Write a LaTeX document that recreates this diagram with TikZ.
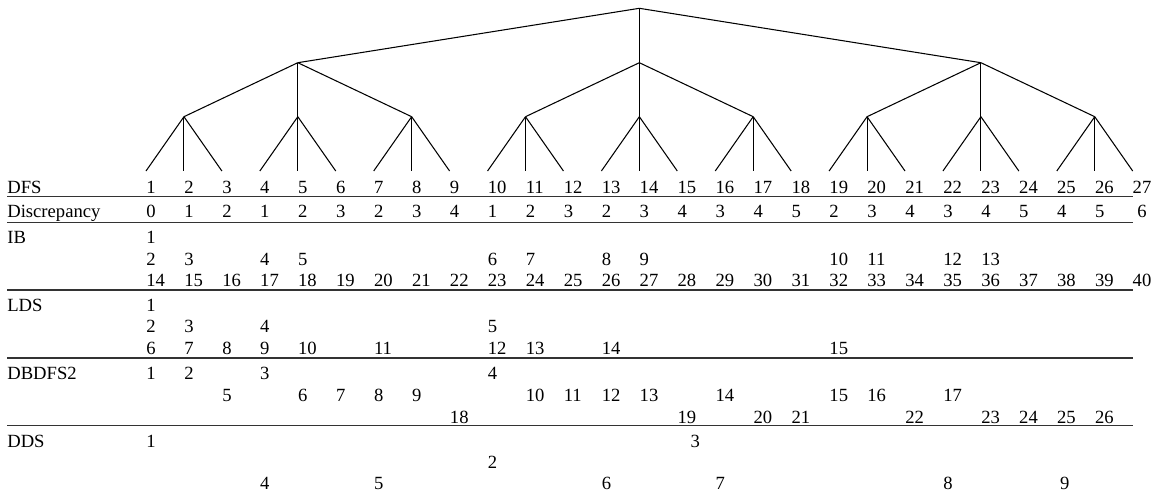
\documentclass[tikz,border=0pt]{standalone}
\usepackage{fontspec}
\setmainfont{Liberation Serif}
\usepackage{tikz}
\usetikzlibrary{calc}

\begin{document}
\begin{tikzpicture}[x=0.02cm,y=-0.02cm,
    cell/.style={anchor=base west,inner sep=0pt,font=\fontsize{10.6}{12}\selectfont},
    lastcell/.style={cell,anchor=base},
    branch/.style={line width=0.6pt},
    rule/.style={line width=0.75pt,black!80}]
  % column pitch and first leaf
  \def\dx{37.95}
  \def\xa{146}
  \useasboundingbox (0,0) rectangle (1161,494);

  % search tree, three levels
  \coordinate (root) at ({\xa+13*\dx},8.3);
  \foreach \k in {1,2,3} \coordinate (m\k) at ({\xa+(9*\k-5)*\dx},62.7);
  \foreach \j in {1,...,9} \coordinate (n\j) at ({\xa+(3*\j-2)*\dx},116.7);
  \foreach \i in {1,...,27} \coordinate (l\i) at ({\xa+(\i-1)*\dx},171);
  \foreach \k in {1,2,3} \draw[branch] (root) -- (m\k);
  \foreach \j in {1,...,9} {
    \pgfmathtruncatemacro\p{(\j+2)/3}
    \draw[branch] (m\p) -- (n\j);
  }
  \foreach \i in {1,...,27} {
    \pgfmathtruncatemacro\p{(\i+2)/3}
    \draw[branch] (n\p) -- (l\i);
  }

  % row labels
  \node[cell] (lab-dfs) at (7,193.6) {DFS};
  \node[cell] (lab-disc) at (7,217.6) {Discrepancy};
  \node[cell] (lab-ib) at (7,243.6) {IB};
  \node[cell] (lab-lds) at (7,311) {LDS};
  \node[cell] (lab-dbdfs) at (7,379.3) {DBDFS2};
  \node[cell] (lab-dds) at (7,447) {DDS};

  % DFS and discrepancies
  \foreach \c in {1,...,26} \node[cell] (dfs-\c) at ({\xa+(\c-1)*\dx},193.6) {\c};
  \node[lastcell] (dfs-27) at (1142,193.6) {27};
  \foreach \c/\t in {1/0,2/1,3/2,4/1,5/2,6/3,7/2,8/3,9/4,10/1,11/2,12/3,13/2,
      14/3,15/4,16/3,17/4,18/5,19/2,20/3,21/4,22/3,23/4,24/5,25/4,26/5}
    \node[cell] (disc-\c) at ({\xa+(\c-1)*\dx},217.6) {\t};
  \node[lastcell] (disc-27) at (1142,217.6) {6};

  % IB
  \node[cell] (ib1-1) at (\xa,243.6) {1};
  \foreach \c/\t in {1/2,2/3,4/4,5/5,10/6,11/7,13/8,14/9,19/10,20/11,22/12,23/13}
    \node[cell] (ib2-\c) at ({\xa+(\c-1)*\dx},265.3) {\t};
  \foreach \c in {1,...,26} {
    \pgfmathtruncatemacro\t{\c+13}
    \node[cell] (ib3-\c) at ({\xa+(\c-1)*\dx},286.3) {\t};
  }
  \node[lastcell] (ib3-27) at (1142,286.3) {40};

  % LDS
  \node[cell] (lds1-1) at (\xa,311) {1};
  \foreach \c/\t in {1/2,2/3,4/4,10/5}
    \node[cell] (lds2-\c) at ({\xa+(\c-1)*\dx},332) {\t};
  \foreach \c/\t in {1/6,2/7,3/8,4/9,5/10,7/11,10/12,11/13,13/14,19/15}
    \node[cell] (lds3-\c) at ({\xa+(\c-1)*\dx},354.3) {\t};

  % DBDFS2
  \foreach \c/\t in {1/1,2/2,4/3,10/4}
    \node[cell] (db1-\c) at ({\xa+(\c-1)*\dx},379.3) {\t};
  \foreach \c/\t in {3/5,5/6,6/7,7/8,8/9,11/10,12/11,13/12,14/13,16/14,19/15,20/16,22/17}
    \node[cell] (db2-\c) at ({\xa+(\c-1)*\dx},401) {\t};
  \foreach \c/\t in {9/18,15/19,17/20,18/21,21/22,23/23,24/24,25/25,26/26}
    \node[cell] (db3-\c) at ({\xa+(\c-1)*\dx},423) {\t};

  % DDS
  \node[cell] (dds1-1) at (\xa,447) {1};
  \node[cell] (dds1-15) at ({\xa+14*\dx+13},447) {3};
  \node[cell] (dds2-10) at ({\xa+9*\dx},468.6) {2};
  \foreach \c/\t in {4/4,7/5,13/6,16/7,22/8}
    \node[cell] (dds3-\c) at ({\xa+(\c-1)*\dx},489.8) {\t};
  \node[cell] (dds3-25) at ({\xa+24*\dx+3},489.8) {9};

  % horizontal rules
  \foreach \y in {196.7,222.3,290,358,425.5}
    \draw[rule] (7,\y) -- ({\xa+26*\dx},\y);
\end{tikzpicture}
\end{document}
